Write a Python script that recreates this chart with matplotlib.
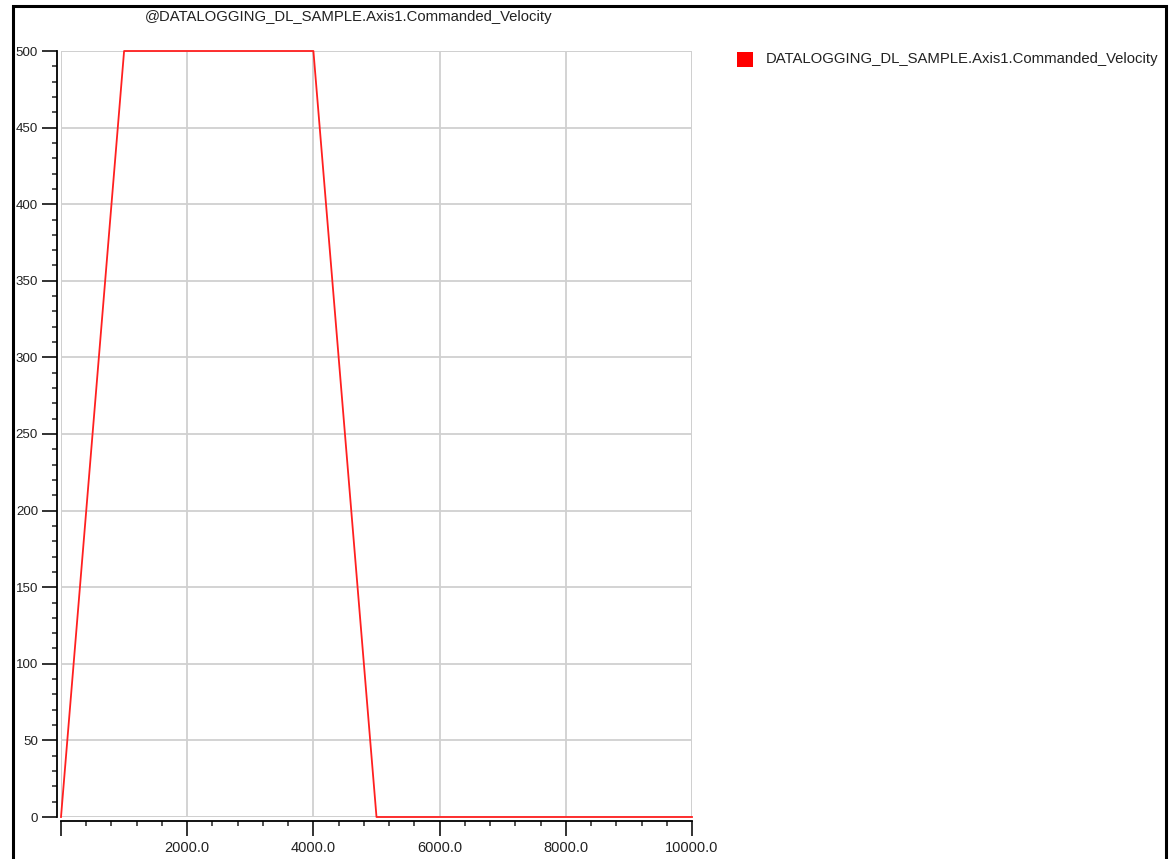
import matplotlib
matplotlib.use('Agg')
import matplotlib.pyplot as plt
from matplotlib.patches import Rectangle
from matplotlib.ticker import MultipleLocator

# Commanded velocity profile (corner points)
time_ms = [0, 1000, 4000, 5000, 10000]
velocity = [0, 500, 500, 0, 0]

series_name = 'DATALOGGING_DL_SAMPLE.Axis1.Commanded_Velocity'
title_text = '@' + series_name

plt.rcParams['font.family'] = ['Liberation Sans', 'DejaVu Sans']

W, H = 1176, 859
fig = plt.figure(figsize=(W / 100, H / 100), dpi=100)
fig.patch.set_facecolor('white')

# plot area in pixel coords
x0, x1 = 61, 692
y0, y1 = 817, 51
ax = fig.add_axes([x0 / W, 1 - y0 / H, (x1 - x0) / W, (y0 - y1) / H])

ax.plot(time_ms, velocity, color='#ff2020', lw=1.3, clip_on=False, zorder=3)

ax.set_xlim(0, 10000)
ax.set_ylim(0, 500)

ax.xaxis.set_minor_locator(MultipleLocator(400))
ax.yaxis.set_major_locator(MultipleLocator(50))
ax.yaxis.set_minor_locator(MultipleLocator(10))

xt = [t for t in range(0, 10001, 2000)]
ax.set_xticks(xt)
ax.set_xticklabels([''] + ['%.1f' % t for t in xt[1:]])

ax.grid(True, which='major', color='#d0d0d0', lw=1.3)
ax.set_axisbelow(True)

for s in ['top', 'right']:
    ax.spines[s].set_visible(False)
ax.spines['left'].set_position(('outward', 3))
ax.spines['bottom'].set_position(('outward', 3))
ax.spines['left'].set_linewidth(1.3)
ax.spines['bottom'].set_linewidth(1.3)

# gray frame lines at the plot area edges
for v in [0, 500]:
    ax.axhline(v, color='#d0d0d0', lw=1.3, zorder=1)
for v in [0, 10000]:
    ax.axvline(v, color='#d0d0d0', lw=1.3, zorder=1)

ax.tick_params(which='major', length=11, width=1.3, colors='#222222', pad=3)
ax.tick_params(which='minor', length=3.5, width=1.1, colors='#222222')
ax.tick_params(axis='x', labelsize=10.5)
ax.tick_params(axis='y', labelsize=9.6, pad=2.5)

fig.text(349 / W, 1 - 17 / H, title_text, ha='center', va='center', fontsize=10.7, color='#222222')

# legend entry
fig.patches.append(Rectangle((737 / W, 1 - 67 / H), 16 / W, 15 / H,
                             transform=fig.transFigure, facecolor='#ff0000', edgecolor='none'))
fig.text(766 / W, 1 - 59 / H, series_name, ha='left', va='center', fontsize=10.7, color='#222222')

# window border
fig.patches.append(Rectangle((13 / W, -0.05), (1166 - 13) / W, 1.05 - 6 / H,
                             transform=fig.transFigure, facecolor='none', edgecolor='black', lw=2.2))

fig.savefig('out.png', dpi=100)
